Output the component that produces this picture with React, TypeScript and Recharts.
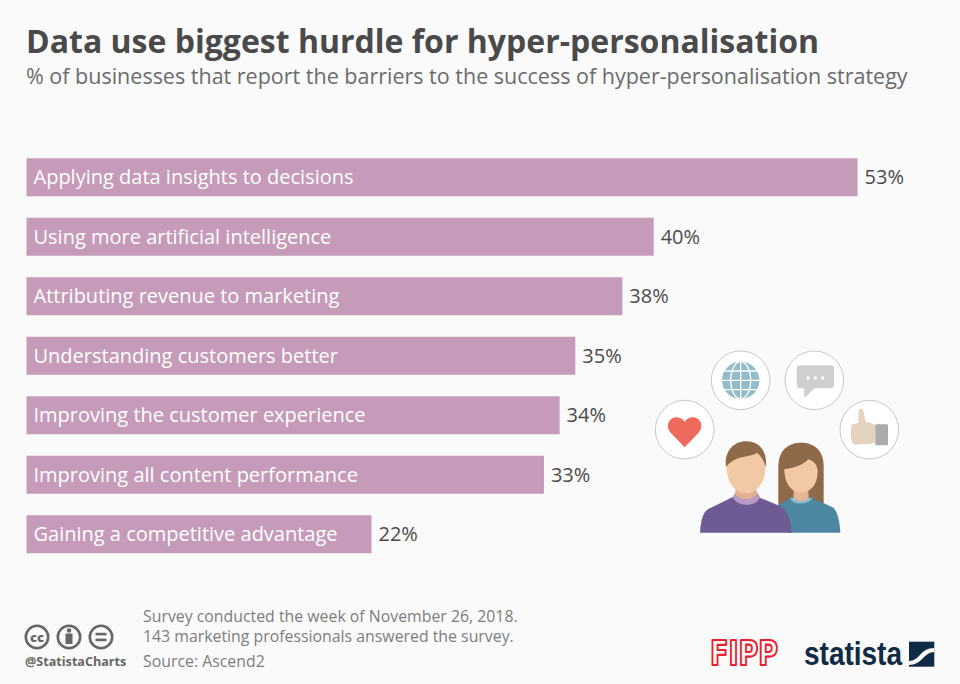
import { BarChart, Bar, XAxis, YAxis, LabelList } from "recharts"

const CATEGORIES = [
  "Applying data insights to decisions",
  "Using more artificial intelligence",
  "Attributing revenue to marketing",
  "Understanding customers better",
  "Improving the customer experience",
  "Improving all content performance",
  "Gaining a competitive advantage",
]
const SHARES = [53, 40, 38, 35, 34, 33, 22]
const NOTE_LINES = [
  "Survey conducted the week of November 26, 2018.",
  "143 marketing professionals answered the survey.",
]

const data = CATEGORIES.map((name, i) => ({ name, share: SHARES[i] }))

const FONT = "'Open Sans', sans-serif"
const BG = "#fafafa"

const abs = (left: number, top: number, extra = {}) => ({
  position: "absolute" as const,
  left,
  top,
  whiteSpace: "nowrap" as const,
  fontFamily: FONT,
  ...extra,
})

// people + icons, drawn in a 3x coordinate space
function Illustration() {
  const ring = { fill: "#fff", stroke: "#c8c8c8", strokeWidth: 3, r: 88 }
  return (
    <svg
      viewBox="0 0 840 630"
      width={280}
      height={210}
      style={{ position: "absolute", left: 640, top: 340 }}
    >
      <circle cx={134} cy={269} {...ring} />
      <circle cx={302} cy={121} {...ring} />
      <circle cx={523} cy={121} {...ring} />
      <circle cx={688} cy={269} {...ring} />

      {/* heart */}
      <path
        d="M134 322 L92 278 C72 254 92 230 112 232 C122 233 130 238 134 246 C138 238 146 233 156 232 C176 230 196 254 176 278 Z"
        fill="#ee6a5c"
      />

      {/* globe */}
      <circle cx={302} cy={121} r={56} fill="#93bccb" />
      <g fill="none" stroke="#fff" strokeWidth={4}>
        <ellipse cx={302} cy={121} rx={30} ry={56} />
        <line x1={302} y1={65} x2={302} y2={177} />
        <line x1={246} y1={121} x2={358} y2={121} />
        <line x1={254} y1={93} x2={350} y2={93} />
        <line x1={254} y1={149} x2={350} y2={149} />
      </g>

      {/* chat bubble */}
      <rect x={470} y={76} width={112} height={69} rx={10} fill="#cfcfcf" />
      <path d="M490 140 L494 173 L528 140 Z" fill="#cfcfcf" />
      <circle cx={504} cy={114} r={5} fill="#fff" />
      <circle cx={526} cy={114} r={5} fill="#fff" />
      <circle cx={548} cy={114} r={5} fill="#fff" />

      {/* thumb */}
      <path
        d="M634 254 L655 248 L656 212 C660 200 672 208 672 220 L676 244 L706 254 L706 310 L646 314 C636 314 632 300 632 280 Z"
        fill="#e3d2bd"
      />
      <rect x={706} y={253} width={38} height={63} rx={3} fill="#ababab" />

      {/* woman */}
      <path
        d="M415 495 L415 380 C415 330 445 308 483 308 C522 308 551 330 551 380 L551 495 Z"
        fill="#8f6a48"
      />
      <path
        d="M415 495 C440 480 450 475 455 470 L512 470 C520 480 560 490 580 503 C592 515 600 545 601 578 L440 578 Z"
        fill="#4d87a3"
      />
      <path d="M450 474 L516 474 C510 492 460 500 450 474 Z" fill="#8ebccf" />
      <path d="M462 440 L504 440 L506 474 C498 486 470 486 460 474 Z" fill="#e5b693" />
      <path
        d="M433 388 C470 384 495 370 505 358 C520 362 533 375 533 395 C533 435 510 458 483 458 C455 458 433 430 433 388 Z"
        fill="#f3c9a5"
      />

      {/* man */}
      <path
        d="M180 578 C182 540 190 515 205 507 L280 470 L352 470 L425 500 C445 515 452 545 455 578 Z"
        fill="#6f5b93"
      />
      <path d="M278 470 L288 455 L350 455 L360 470 C350 502 290 502 278 470 Z" fill="#b89ac5" />
      <path d="M288 430 L348 430 L350 462 C340 482 296 482 286 462 Z" fill="#e0b090" />
      <ellipse cx={318} cy={385} rx={58} ry={75} fill="#f3c9a5" />
      <path
        d="M258 382 C252 335 280 304 318 304 C356 304 382 330 378 382 C372 362 362 348 352 338 C335 352 280 345 258 382 Z"
        fill="#8f6a48"
      />
    </svg>
  )
}

function CcBadges() {
  const ring = { fill: "none", stroke: "#666", strokeWidth: 2.6, r: 11.2 }
  return (
    <svg width={110} height={34} style={{ position: "absolute", left: 20, top: 620 }}>
      <circle cx={17} cy={17} {...ring} />
      <text
        x={17}
        y={21.5}
        textAnchor="middle"
        fontFamily={FONT}
        fontWeight={800}
        fontSize={13}
        fill="#666"
      >
        cc
      </text>
      <circle cx={49} cy={17} {...ring} />
      <circle cx={49} cy={10.5} r={2.2} fill="#666" />
      <rect x={45.5} y={13.5} width={7} height={10.5} fill="#666" />
      <circle cx={81} cy={17} {...ring} />
      <rect x={75.5} y={12.8} width={11} height={2.6} fill="#666" />
      <rect x={75.5} y={18.6} width={11} height={2.6} fill="#666" />
    </svg>
  )
}

function Logos() {
  return (
    <svg width={260} height={50} style={{ position: "absolute", left: 700, top: 630 }}>
      <text
        x={10}
        y={35}
        textLength={68}
        lengthAdjust="spacingAndGlyphs"
        fontFamily="'DejaVu Sans', sans-serif"
        fontWeight={700}
        fontSize={33}
        fill="none"
        stroke="#e8202f"
        strokeWidth={2.2}
        strokeLinejoin="round"
      >
        FIPP
      </text>
      <text
        x={104}
        y={35}
        textLength={98}
        lengthAdjust="spacingAndGlyphs"
        fontFamily="'Liberation Sans Narrow', 'Liberation Sans', sans-serif"
        fontWeight={700}
        fontSize={34}
        fill="#0f2b46"
      >
        statista
      </text>
      <rect x={209} y={11.7} width={25.3} height={25} fill="#0f2b46" />
      <path
        d="M209 31 C220 31 220 18 234.3 18 L234.3 22 C224 22 222 35 209 35 Z"
        fill={BG}
      />
    </svg>
  )
}

export default function App() {
  return (
    <div
      style={{
        position: "absolute",
        left: 0,
        top: 0,
        width: 960,
        height: 684,
        background: BG,
        overflow: "hidden",
      }}
    >
      <div style={abs(26, 19, { fontSize: 32, fontWeight: 700, color: "#4a4a4a", lineHeight: "44px" })}>
        Data use biggest hurdle for hyper-personalisation
      </div>
      <div style={abs(26, 60, { fontSize: 21.5, color: "#6b6b6b", lineHeight: "32px" })}>
        % of businesses that report the barriers to the success of hyper-personalisation strategy
      </div>

      <div style={{ position: "absolute", left: 0, top: 0 }}>
        <BarChart
          width={960}
          height={684}
          data={data}
          layout="vertical"
          margin={{ top: 147.25, right: 71.1, bottom: 120.25, left: 26.5 }}
          barSize={38}
        >
          <XAxis type="number" domain={[0, 55]} hide />
          <YAxis type="category" dataKey="name" hide />
          <Bar dataKey="share" fill="#c59bb9" isAnimationActive={false}>
            <LabelList
              dataKey="name"
              position="insideLeft"
              offset={7}
              fill="#fff"
              fontFamily={FONT}
              fontSize={20}
            />
            <LabelList
              dataKey="share"
              position="right"
              offset={7}
              formatter={(v: number) => `${v}%`}
              fill="#4a4a4a"
              fontFamily={FONT}
              fontSize={20}
            />
          </Bar>
        </BarChart>
      </div>

      <Illustration />
      <CcBadges />
      <div style={abs(25, 654, { fontSize: 12.6, fontWeight: 700, color: "#666", lineHeight: "16px" })}>
        @StatistaCharts
      </div>

      <div style={abs(143, 606, { fontSize: 15.85, color: "#7d7d7d", lineHeight: "20px" })}>
        {NOTE_LINES.map((l) => (
          <div key={l}>{l}</div>
        ))}
      </div>
      <div style={abs(143, 651, { fontSize: 15.85, color: "#7d7d7d", lineHeight: "20px" })}>
        Source: Ascend2
      </div>

      <Logos />
    </div>
  )
}
